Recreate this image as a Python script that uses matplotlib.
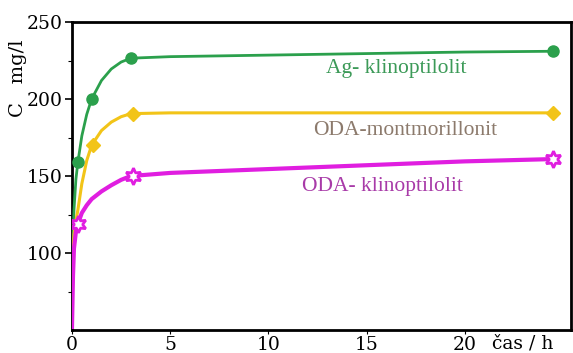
import matplotlib
matplotlib.use("Agg")
import matplotlib.pyplot as plt

# curve points (time in h, concentration mg/l)
t_curve = [0, 0.05, 0.1, 0.2, 0.3, 0.5, 0.75, 1, 1.5, 2, 2.5, 3, 5, 10, 15, 20, 24.5]
ag_curve = [52, 110, 128, 148, 159, 176, 190, 200, 212, 219.5, 224, 226.5, 227.5, 228.5, 229.5, 230.5, 231]
mont_curve = [52, 100, 112, 121, 128, 145, 160, 170, 179.5, 185, 188.5, 190.5, 191, 191, 191, 191, 191]
oda_curve = [52, 85, 103, 114, 119, 126, 131, 135, 140, 144, 147.5, 150, 152, 154.5, 157, 159.5, 161]

# marker points
ag_t = [0.3, 1, 3, 24.5]
ag_c = [159, 200, 226.5, 231]
mont_t = [1.05, 3.1, 24.5]
mont_c = [170, 190.5, 191]
oda_t = [0.3, 3.1, 24.5]
oda_c = [119, 150, 161]

x_ticks = [0, 5, 10, 15, 20]
y_ticks = [100, 150, 200, 250]

green = "#2ba04c"
yellow = "#f2c418"
magenta = "#e01ee0"

fig = plt.figure(figsize=(5.73, 3.53), dpi=100)
ax = fig.add_axes([72/573, 1-330/353, (571-72)/573, (330-22)/353])

ax.plot(t_curve, ag_curve, color=green, lw=2.0, zorder=3)
ax.plot(ag_t, ag_c, 'o', color=green, ms=8, zorder=4)
ax.plot(t_curve, mont_curve, color=yellow, lw=2.2, zorder=3)
ax.plot(mont_t, mont_c, 'D', color=yellow, ms=7, zorder=4)
ax.plot(t_curve, oda_curve, color=magenta, lw=3.0, zorder=5)
ax.plot(oda_t, oda_c, marker=(6, 1, 0), ls='none', mfc='white', mec=magenta, mew=2, ms=12, zorder=6)

ax.set_xlim(0, 25.4)
ax.set_ylim(50, 250)
ax.set_xticks(x_ticks)
ax.set_yticks(y_ticks)
ax.set_yticks([75, 125, 175, 225], minor=True)
tfont = dict(family="DejaVu Serif", size=13.5)
ax.set_xticklabels([str(v) for v in x_ticks], **tfont)
ax.set_yticklabels([str(v) for v in y_ticks], **tfont)
ax.tick_params(axis='y', which='major', direction='out', length=5, width=1.2, pad=2)
ax.tick_params(axis='y', which='minor', direction='out', length=3, width=0.8)
ax.tick_params(axis='x', which='major', direction='out', length=3, width=0.8, pad=1)
for s in ax.spines.values():
    s.set_linewidth(2)
    s.set_color("black")

lfont = dict(family="Liberation Serif", size=15.5)
fig.text(396/573, 1-68/353, "Ag- klinoptilolit", color="#3c9a58", ha='center', va='center', **lfont)
fig.text(405/573, 1-130/353, "ODA-montmorillonit", color="#8c7a6c", ha='center', va='center', **lfont)
fig.text(382/573, 1-186/353, "ODA- klinoptilolit", color="#a83aa8", ha='center', va='center', **lfont)

fig.text(18/573, 1-78/353, "C   mg/l", rotation=90, ha='center', va='center', family="DejaVu Serif", size=14)
fig.text(523/573, 1-343/353, "čas / h", ha='center', va='center', family="DejaVu Serif", size=13.5)

fig.savefig("out.png", dpi=100)
